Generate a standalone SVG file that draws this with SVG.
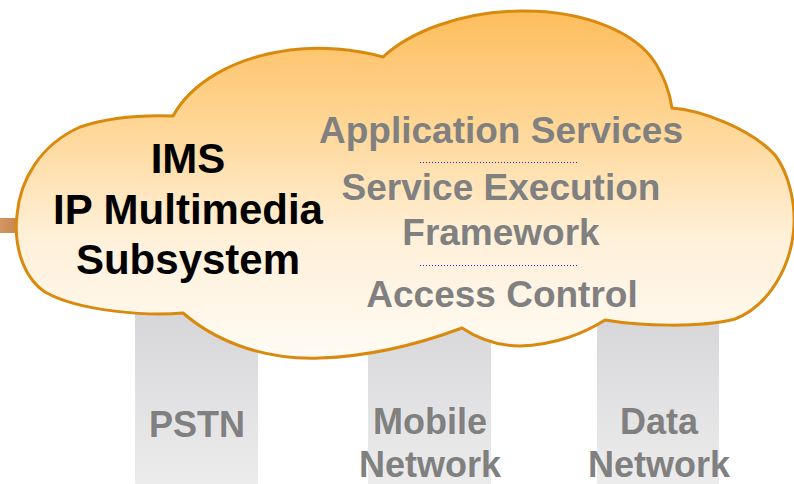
<svg xmlns="http://www.w3.org/2000/svg" width="794" height="484" viewBox="0 0 794 484">
<defs>
<linearGradient id="cloudFill" x1="0" y1="0" x2="0" y2="1">
<stop offset="0" stop-color="#fdbd5c"/>
<stop offset="0.35" stop-color="#ffd89a"/>
<stop offset="0.65" stop-color="#fff0d8"/>
<stop offset="1" stop-color="#fffbf4"/>
</linearGradient>
<linearGradient id="pillarFill" x1="0" y1="0" x2="0" y2="1">
<stop offset="0" stop-color="#d5d5d9"/>
<stop offset="1" stop-color="#ececec"/>
</linearGradient>
<linearGradient id="barFill" x1="0" y1="0" x2="1" y2="0">
<stop offset="0" stop-color="#d49660"/>
<stop offset="1" stop-color="#c3834f"/>
</linearGradient>
</defs>
<style>
.pillar{fill:url(#pillarFill);}
.net{font-family:"Liberation Sans",Arial,sans-serif;font-weight:bold;font-size:36px;fill:#808080;text-anchor:middle;}
.ims{font-family:"Liberation Sans",Arial,sans-serif;font-weight:bold;font-size:42px;fill:#000;text-anchor:middle;}
.layer{font-family:"Liberation Sans",Arial,sans-serif;font-weight:bold;font-size:37px;fill:#808080;text-anchor:middle;}
.sep{stroke:#2a2ac8;stroke-width:1;stroke-dasharray:1 2;fill:none;}
</style>
<rect id="bar" x="0" y="218" width="20" height="15" fill="url(#barFill)"/>
<g id="pstn">
<rect class="pillar" x="135" y="300" width="123" height="184"/>
<text class="net" x="197" y="437">PSTN</text>
</g>
<g id="mobile">
<rect class="pillar" x="368" y="300" width="123" height="184"/>
<text class="net" x="430" y="434">Mobile</text>
<text class="net" x="430" y="477">Network</text>
</g>
<g id="data">
<rect class="pillar" x="597" y="300" width="122" height="184"/>
<text class="net" x="659" y="434">Data</text>
<text class="net" x="659" y="477">Network</text>
</g>
<g id="ims-cloud">
<path d="M173,116 C190,85 230,58 290,50 C320,46 355,49 383,57 C410,32 460,12 520,11 C580,10 635,30 656,64 C666,80 670,95 672,108 C700,110 750,128 775,155 C790,175 795,205 794,225 C792,265 770,305 735,319 C700,328 640,326 605,320 C585,333 555,345 520,346 C500,346 480,340 462,328 C430,340 380,356 320,358 C270,360 220,345 183,313 C150,316 80,312 45,292 C20,275 14,240 17,215 C20,180 40,145 80,127 C110,117 145,115 173,116 Z" fill="url(#cloudFill)" stroke="#d98a0e" stroke-width="3" stroke-linejoin="round"/>
<text class="ims" x="188" y="173">IMS</text>
<text class="ims" x="188" y="224">IP Multimedia</text>
<text class="ims" x="188" y="274">Subsystem</text>
</g>
<g id="layers">
<text class="layer" x="501" y="143">Application Services</text>
<text class="layer" x="501" y="200">Service Execution</text>
<text class="layer" x="501" y="245">Framework</text>
<text class="layer" x="502" y="307">Access Control</text>
</g>
<g id="connectors">
<line class="sep" x1="420" y1="162.5" x2="578" y2="162.5"/>
<line class="sep" x1="420" y1="265.5" x2="578" y2="265.5"/>
</g>
</svg>
